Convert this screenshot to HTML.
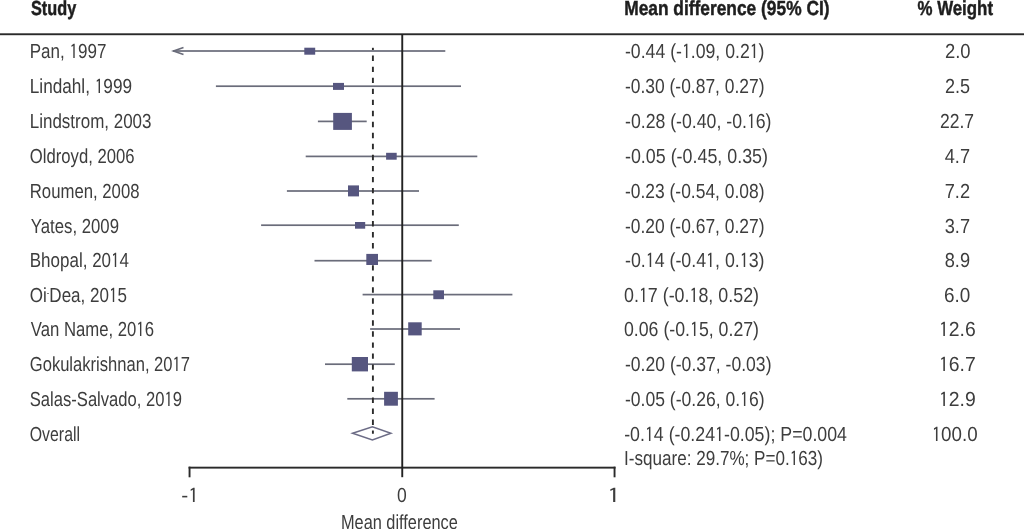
<!DOCTYPE html>
<html><head><meta charset="utf-8"><title>Forest plot</title>
<style>
html,body{margin:0;padding:0;background:#fff;}
body{width:1024px;height:529px;overflow:hidden;}
svg{display:block;}
text{font-family:"Liberation Sans",Arial,sans-serif;font-size:20.3px;text-rendering:geometricPrecision;}
text.t{fill:#3d3d3d;}
tspan.sh{font-size:9px;baseline-shift:6.5px;}
tspan.o{font-family:IPAGothic,"Liberation Sans",sans-serif;baseline-shift:-0.9px;}
text.b{fill:#1e1e1e;font-weight:bold;stroke:#1e1e1e;stroke-width:0.45px;}
</style></head>
<body>
<svg width="1024" height="529" viewBox="0 0 1024 529">
<rect x="0" y="33.3" width="1024" height="1.9" fill="#2a2a2a"/>
<rect x="188.6" y="466.7" width="426.9" height="1.9" fill="#2a2a2a"/>
<rect x="188.6" y="466.7" width="1.9" height="10.6" fill="#2a2a2a"/>
<rect x="613.6" y="466.7" width="1.9" height="10.6" fill="#2a2a2a"/>
<polyline points="183.5,47.5 173.6,51 183.5,54.5" fill="none" stroke="#6a6c7a" stroke-width="1.7"/>
<rect x="173.00" y="50.15" width="272.30" height="1.7" fill="#6a6c7a"/>
<rect x="215.90" y="85.35" width="245.10" height="1.7" fill="#6a6c7a"/>
<rect x="317.90" y="120.55" width="48.80" height="1.7" fill="#6a6c7a"/>
<rect x="305.70" y="155.55" width="171.60" height="1.7" fill="#6a6c7a"/>
<rect x="286.90" y="190.15" width="132.10" height="1.7" fill="#6a6c7a"/>
<rect x="261.10" y="224.35" width="197.70" height="1.7" fill="#6a6c7a"/>
<rect x="314.50" y="259.85" width="117.20" height="1.7" fill="#6a6c7a"/>
<rect x="362.60" y="293.75" width="149.80" height="1.7" fill="#6a6c7a"/>
<rect x="370.10" y="328.15" width="89.90" height="1.7" fill="#6a6c7a"/>
<rect x="325.00" y="363.35" width="69.80" height="1.7" fill="#6a6c7a"/>
<rect x="347.30" y="397.95" width="87.30" height="1.7" fill="#6a6c7a"/>
<polygon points="352.6,433.3 372.4,426.7 390.9,433.3 372.4,439.9" fill="none" stroke="#6c6c86" stroke-width="1.5"/>
<line x1="372.9" y1="44.57" x2="372.9" y2="433.8" stroke="#2b2b2b" stroke-width="1.9" stroke-dasharray="5.4 5.63"/>
<rect x="364" y="40" width="18" height="7.8" fill="#fff"/>
<rect x="401.3" y="34" width="1.9" height="443.2" fill="#222"/>
<rect x="304.30" y="47.70" width="10.90" height="7.00" fill="#56567f"/>
<rect x="333.00" y="82.90" width="11.00" height="7.00" fill="#56567f"/>
<rect x="333.20" y="112.90" width="18.70" height="17.00" fill="#56567f"/>
<rect x="386.10" y="152.80" width="10.60" height="6.90" fill="#56567f"/>
<rect x="348.00" y="185.40" width="11.00" height="11.00" fill="#56567f"/>
<rect x="355.00" y="222.00" width="10.20" height="6.70" fill="#56567f"/>
<rect x="366.30" y="253.90" width="11.70" height="11.10" fill="#56567f"/>
<rect x="433.30" y="290.30" width="10.70" height="8.90" fill="#56567f"/>
<rect x="408.20" y="322.30" width="13.50" height="13.10" fill="#56567f"/>
<rect x="351.80" y="357.00" width="16.20" height="14.40" fill="#56567f"/>
<rect x="384.10" y="391.80" width="13.80" height="13.90" fill="#56567f"/>
<text id="h_study" class="b" x="31.00" y="15.00" textLength="45.21" lengthAdjust="spacingAndGlyphs">Study</text>
<text id="h_md" class="b" x="624.19" y="15.00" textLength="205.32" lengthAdjust="spacingAndGlyphs">Mean difference (95% CI)</text>
<text id="h_w" class="b" x="917.49" y="15.00" textLength="75.51" lengthAdjust="spacingAndGlyphs">% Weight</text>
<text id="n0" class="t" x="29.77" y="58.00" textLength="76.65" lengthAdjust="spacingAndGlyphs">Pan, <tspan class="o">1</tspan>997</text>
<text id="c0" class="t" x="624.99" y="58.00" textLength="139.51" lengthAdjust="spacingAndGlyphs">-0.44 (-<tspan class="o">1</tspan>.09, 0.2<tspan class="o">1</tspan>)</text>
<text id="w0" class="t" x="944.94" y="58.00" textLength="25.63" lengthAdjust="spacingAndGlyphs">2.0</text>
<text id="n1" class="t" x="29.77" y="93.00" textLength="102.24" lengthAdjust="spacingAndGlyphs">Lindahl, <tspan class="o">1</tspan>999</text>
<text id="c1" class="t" x="624.99" y="93.00" textLength="139.51" lengthAdjust="spacingAndGlyphs">-0.30 (-0.87, 0.27)</text>
<text id="w1" class="t" x="944.93" y="93.00" textLength="25.13" lengthAdjust="spacingAndGlyphs">2.5</text>
<text id="n2" class="t" x="29.78" y="128.00" textLength="121.73" lengthAdjust="spacingAndGlyphs">Lindstrom, 2003</text>
<text id="c2" class="t" x="624.99" y="128.00" textLength="146.51" lengthAdjust="spacingAndGlyphs">-0.28 (-0.40, -0.<tspan class="o">1</tspan>6)</text>
<text id="w2" class="t" x="939.95" y="128.00" textLength="34.09" lengthAdjust="spacingAndGlyphs">22.7</text>
<text id="n3" class="t" x="29.80" y="163.00" textLength="104.71" lengthAdjust="spacingAndGlyphs">Oldroyd, 2006</text>
<text id="c3" class="t" x="624.99" y="163.00" textLength="143.02" lengthAdjust="spacingAndGlyphs">-0.05 (-0.45, 0.35)</text>
<text id="w3" class="t" x="944.78" y="163.00" textLength="25.27" lengthAdjust="spacingAndGlyphs">4.7</text>
<text id="n4" class="t" x="29.78" y="198.00" textLength="109.73" lengthAdjust="spacingAndGlyphs">Roumen, 2008</text>
<text id="c4" class="t" x="624.99" y="198.00" textLength="139.51" lengthAdjust="spacingAndGlyphs">-0.23 (-0.54, 0.08)</text>
<text id="w4" class="t" x="944.76" y="198.00" textLength="25.27" lengthAdjust="spacingAndGlyphs">7.2</text>
<text id="n5" class="t" x="30.79" y="233.00" textLength="88.22" lengthAdjust="spacingAndGlyphs">Yates, 2009</text>
<text id="c5" class="t" x="624.99" y="233.00" textLength="139.51" lengthAdjust="spacingAndGlyphs">-0.20 (-0.67, 0.27)</text>
<text id="w5" class="t" x="944.74" y="233.00" textLength="25.31" lengthAdjust="spacingAndGlyphs">3.7</text>
<text id="n6" class="t" x="29.77" y="267.00" textLength="99.24" lengthAdjust="spacingAndGlyphs">Bhopal, 20<tspan class="o">1</tspan>4</text>
<text id="c6" class="t" x="624.99" y="267.00" textLength="139.51" lengthAdjust="spacingAndGlyphs">-0.<tspan class="o">1</tspan>4 (-0.4<tspan class="o">1</tspan>, 0.<tspan class="o">1</tspan>3)</text>
<text id="w6" class="t" x="944.74" y="267.00" textLength="25.31" lengthAdjust="spacingAndGlyphs">8.9</text>
<text id="n7" class="t" x="29.79" y="302.00" textLength="97.22" lengthAdjust="spacingAndGlyphs">Oi<tspan class="sh">-</tspan>Dea, 20<tspan class="o">1</tspan>5</text>
<text id="c7" class="t" x="623.98" y="302.00" textLength="135.04" lengthAdjust="spacingAndGlyphs">0.<tspan class="o">1</tspan>7 (-0.<tspan class="o">1</tspan>8, 0.52)</text>
<text id="w7" class="t" x="943.91" y="302.00" textLength="26.32" lengthAdjust="spacingAndGlyphs">6.0</text>
<text id="n8" class="t" x="30.79" y="336.00" textLength="123.23" lengthAdjust="spacingAndGlyphs">Van Name, 20<tspan class="o">1</tspan>6</text>
<text id="c8" class="t" x="623.98" y="336.00" textLength="135.04" lengthAdjust="spacingAndGlyphs">0.06 (-0.<tspan class="o">1</tspan>5, 0.27)</text>
<text id="w8" class="t" x="939.06" y="336.00" textLength="36.62" lengthAdjust="spacingAndGlyphs"><tspan class="o">1</tspan>2.6</text>
<text id="n9" class="t" x="29.79" y="371.00" textLength="160.22" lengthAdjust="spacingAndGlyphs">Gokulakrishnan, 20<tspan class="o">1</tspan>7</text>
<text id="c9" class="t" x="624.99" y="371.00" textLength="146.51" lengthAdjust="spacingAndGlyphs">-0.20 (-0.37, -0.03)</text>
<text id="w9" class="t" x="939.06" y="371.00" textLength="36.62" lengthAdjust="spacingAndGlyphs"><tspan class="o">1</tspan>6.7</text>
<text id="n10" class="t" x="29.78" y="406.00" textLength="152.23" lengthAdjust="spacingAndGlyphs">Salas-Salvado, 20<tspan class="o">1</tspan>9</text>
<text id="c10" class="t" x="624.99" y="406.00" textLength="139.51" lengthAdjust="spacingAndGlyphs">-0.05 (-0.26, 0.<tspan class="o">1</tspan>6)</text>
<text id="w10" class="t" x="939.06" y="406.00" textLength="36.62" lengthAdjust="spacingAndGlyphs"><tspan class="o">1</tspan>2.9</text>
<text id="n_ov" class="t" x="29.79" y="441.00" textLength="50.24" lengthAdjust="spacingAndGlyphs">Overall</text>
<text id="c_ov" class="t" x="624.19" y="441.00" textLength="222.81" lengthAdjust="spacingAndGlyphs">-0.<tspan class="o">1</tspan>4 (-0.24<tspan class="o">1</tspan>-0.05); P=0.004</text>
<text id="w_ov" class="t" x="931.68" y="441.00" textLength="45.97" lengthAdjust="spacingAndGlyphs"><tspan class="o">1</tspan>00.0</text>
<text id="c_i2" class="t" x="623.98" y="465.00" textLength="199.02" lengthAdjust="spacingAndGlyphs">I-square: 29.7%; P=0.<tspan class="o">1</tspan>63)</text>
<text id="a_m1" class="t" x="181.39" y="502.00" textLength="17.43" lengthAdjust="spacingAndGlyphs">-<tspan class="o">1</tspan></text>
<text id="a_0" class="t" x="396.97" y="502.00" textLength="9.76" lengthAdjust="spacingAndGlyphs">0</text>
<text id="a_1" class="t" x="607.33" y="502.00" textLength="13.18" lengthAdjust="spacingAndGlyphs"><tspan class="o">1</tspan></text>
<text id="a_lab" class="t" x="340.99" y="529.00" textLength="116.82" lengthAdjust="spacingAndGlyphs">Mean difference</text>
</svg>
</body></html>
